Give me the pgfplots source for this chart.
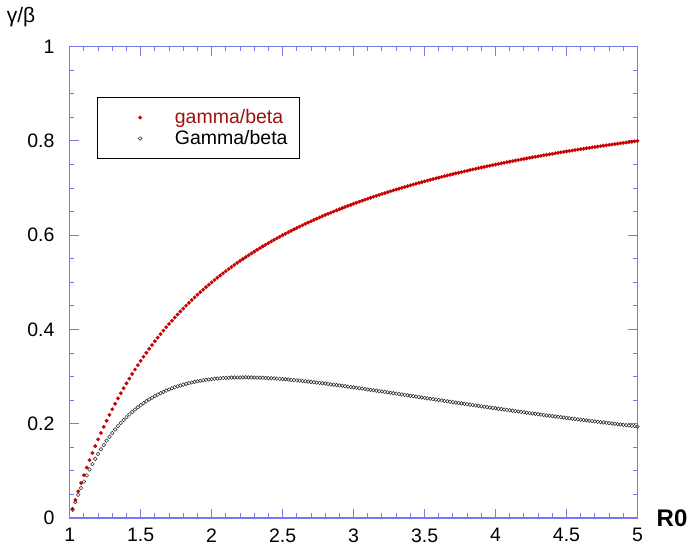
\documentclass[border=0pt]{standalone}
\usepackage{fontspec}
\setmainfont{Liberation Sans}
\usepackage{pgfplots}
\usepackage{pgfplotstable}
\pgfplotsset{compat=1.18}
\definecolor{axisblue}{RGB}{120,120,240}
\definecolor{dotred}{RGB}{200,0,0}
\definecolor{legred}{RGB}{160,16,16}

\pgfplotstableread{
R0 r g
1.02 0.0196 0.0173
1.04 0.0385 0.0336
1.06 0.0566 0.0491
1.08 0.0741 0.0636
1.10 0.0909 0.0774
1.12 0.1071 0.0904
1.14 0.1228 0.1028
1.16 0.1379 0.1144
1.18 0.1525 0.1255
1.20 0.1667 0.1359
1.22 0.1803 0.1458
1.24 0.1935 0.1551
1.26 0.2063 0.1640
1.28 0.2188 0.1723
1.30 0.2308 0.1802
1.32 0.2424 0.1878
1.34 0.2537 0.1949
1.36 0.2647 0.2016
1.38 0.2754 0.2079
1.40 0.2857 0.2139
1.42 0.2958 0.2196
1.44 0.3056 0.2250
1.46 0.3151 0.2301
1.48 0.3243 0.2349
1.50 0.3333 0.2394
1.52 0.3421 0.2437
1.54 0.3506 0.2478
1.56 0.3590 0.2516
1.58 0.3671 0.2552
1.60 0.3750 0.2586
1.62 0.3827 0.2618
1.64 0.3902 0.2648
1.66 0.3976 0.2676
1.68 0.4048 0.2703
1.70 0.4118 0.2727
1.72 0.4186 0.2751
1.74 0.4253 0.2772
1.76 0.4318 0.2793
1.78 0.4382 0.2812
1.80 0.4444 0.2830
1.82 0.4505 0.2846
1.84 0.4565 0.2861
1.86 0.4624 0.2875
1.88 0.4681 0.2888
1.90 0.4737 0.2901
1.92 0.4792 0.2912
1.94 0.4845 0.2922
1.96 0.4898 0.2931
1.98 0.4949 0.2939
2.00 0.5000 0.2947
2.02 0.5050 0.2953
2.04 0.5098 0.2959
2.06 0.5146 0.2965
2.08 0.5192 0.2969
2.10 0.5238 0.2973
2.12 0.5283 0.2976
2.14 0.5327 0.2979
2.16 0.5370 0.2981
2.18 0.5413 0.2982
2.20 0.5455 0.2983
2.22 0.5495 0.2984
2.24 0.5536 0.2984
2.26 0.5575 0.2983
2.28 0.5614 0.2982
2.30 0.5652 0.2981
2.32 0.5690 0.2979
2.34 0.5726 0.2977
2.36 0.5763 0.2974
2.38 0.5798 0.2971
2.40 0.5833 0.2968
2.42 0.5868 0.2965
2.44 0.5902 0.2961
2.46 0.5935 0.2957
2.48 0.5968 0.2952
2.50 0.6000 0.2947
2.52 0.6032 0.2942
2.54 0.6063 0.2937
2.56 0.6094 0.2932
2.58 0.6124 0.2926
2.60 0.6154 0.2920
2.62 0.6183 0.2914
2.64 0.6212 0.2908
2.66 0.6241 0.2901
2.68 0.6269 0.2895
2.70 0.6296 0.2888
2.72 0.6324 0.2881
2.74 0.6350 0.2874
2.76 0.6377 0.2867
2.78 0.6403 0.2859
2.80 0.6429 0.2852
2.82 0.6454 0.2844
2.84 0.6479 0.2836
2.86 0.6503 0.2829
2.88 0.6528 0.2821
2.90 0.6552 0.2813
2.92 0.6575 0.2805
2.94 0.6599 0.2796
2.96 0.6622 0.2788
2.98 0.6644 0.2780
3.00 0.6667 0.2771
3.02 0.6689 0.2763
3.04 0.6711 0.2754
3.06 0.6732 0.2746
3.08 0.6753 0.2737
3.10 0.6774 0.2728
3.12 0.6795 0.2719
3.14 0.6815 0.2711
3.16 0.6835 0.2702
3.18 0.6855 0.2693
3.20 0.6875 0.2684
3.22 0.6894 0.2675
3.24 0.6914 0.2666
3.26 0.6933 0.2657
3.28 0.6951 0.2648
3.30 0.6970 0.2639
3.32 0.6988 0.2630
3.34 0.7006 0.2621
3.36 0.7024 0.2612
3.38 0.7041 0.2603
3.40 0.7059 0.2594
3.42 0.7076 0.2585
3.44 0.7093 0.2576
3.46 0.7110 0.2567
3.48 0.7126 0.2557
3.50 0.7143 0.2548
3.52 0.7159 0.2539
3.54 0.7175 0.2530
3.56 0.7191 0.2521
3.58 0.7207 0.2512
3.60 0.7222 0.2503
3.62 0.7238 0.2494
3.64 0.7253 0.2485
3.66 0.7268 0.2476
3.68 0.7283 0.2467
3.70 0.7297 0.2458
3.72 0.7312 0.2449
3.74 0.7326 0.2440
3.76 0.7340 0.2432
3.78 0.7354 0.2423
3.80 0.7368 0.2414
3.82 0.7382 0.2405
3.84 0.7396 0.2396
3.86 0.7409 0.2387
3.88 0.7423 0.2379
3.90 0.7436 0.2370
3.92 0.7449 0.2361
3.94 0.7462 0.2353
3.96 0.7475 0.2344
3.98 0.7487 0.2336
4.00 0.7500 0.2327
4.02 0.7512 0.2318
4.04 0.7525 0.2310
4.06 0.7537 0.2301
4.08 0.7549 0.2293
4.10 0.7561 0.2285
4.12 0.7573 0.2276
4.14 0.7585 0.2268
4.16 0.7596 0.2260
4.18 0.7608 0.2251
4.20 0.7619 0.2243
4.22 0.7630 0.2235
4.24 0.7642 0.2227
4.26 0.7653 0.2218
4.28 0.7664 0.2210
4.30 0.7674 0.2202
4.32 0.7685 0.2194
4.34 0.7696 0.2186
4.36 0.7706 0.2178
4.38 0.7717 0.2170
4.40 0.7727 0.2162
4.42 0.7738 0.2155
4.44 0.7748 0.2147
4.46 0.7758 0.2139
4.48 0.7768 0.2131
4.50 0.7778 0.2124
4.52 0.7788 0.2116
4.54 0.7797 0.2108
4.56 0.7807 0.2101
4.58 0.7817 0.2093
4.60 0.7826 0.2086
4.62 0.7835 0.2078
4.64 0.7845 0.2071
4.66 0.7854 0.2063
4.68 0.7863 0.2056
4.70 0.7872 0.2049
4.72 0.7881 0.2041
4.74 0.7890 0.2034
4.76 0.7899 0.2027
4.78 0.7908 0.2020
4.80 0.7917 0.2013
4.82 0.7925 0.2005
4.84 0.7934 0.1998
4.86 0.7942 0.1991
4.88 0.7951 0.1984
4.90 0.7959 0.1977
4.92 0.7967 0.1970
4.94 0.7976 0.1964
4.96 0.7984 0.1957
4.98 0.7992 0.1950
5.00 0.8000 0.1943
}\data

\begin{document}
\begin{tikzpicture}[x=1pt,y=1pt]
\path[use as bounding box] (0,0) rectangle (689,554);
\begin{axis}[
  at={(69.7pt,36pt)}, anchor=south west,
  scale only axis, width=567.8pt, height=471.3pt,
  xmin=1, xmax=5, ymin=0, ymax=1,
  xtick={1,1.5,2,2.5,3,3.5,4,4.5,5},
  ytick={0,0.2,0.4,0.6,0.8,1},
  minor x tick num=4, minor y tick num=3,
  tick align=inside, tick pos=both,
  major tick length=9pt, minor tick length=4.5pt,
  every tick/.style={draw=axisblue, line width=1pt},
  axis line style={draw=axisblue, line width=1.1pt},
  /pgf/number format/assume math mode=true,
  ticklabel style={font=\fontsize{19.5}{22}\selectfont},
  yticklabel style={inner sep=0pt, xshift=-15pt},
  xticklabel style={inner sep=0pt, yshift=-10.3pt},
  xlabel={R0},
  xlabel style={font=\fontsize{24}{28}\selectfont\bfseries, at={(rel axis cs:1,0)}, anchor=west, inner sep=0pt, xshift=19pt},
  ylabel={γ/β},
  ylabel style={font=\fontsize{21}{24}\selectfont, rotate=-90, at={(rel axis cs:0,1)}, anchor=center, xshift=-48.7pt, yshift=29.7pt},
  legend style={at={(rel axis cs:0.0486,0.8939)}, anchor=north west, draw=black, line width=1.1pt, inner xsep=0pt, inner ysep=9.8pt, font=\fontsize{19.5}{22}\selectfont, nodes={inner sep=0pt}, row sep=0pt},
  legend cell align=left,
  legend image code/.code={\path[draw=none, fill=none] (-42.3pt,-10.5pt) rectangle (34.7pt,10.5pt); \draw[#1] plot coordinates {(0pt,0pt)};},
]
\addplot[only marks, mark=*, mark size=1.9pt, color=dotred, mark options={draw=dotred, fill=dotred, line width=0.1pt}] table[x=R0, y=r] {\data};
\addlegendentry{\textcolor{legred}{gamma/beta}}
\addplot[only marks, mark=o, mark size=1.8pt, color=black!85, mark options={line width=0.5pt}] table[x=R0, y=g] {\data};
\addlegendentry{Gamma/beta\hspace*{12pt}}
\end{axis}
\end{tikzpicture}
\end{document}
